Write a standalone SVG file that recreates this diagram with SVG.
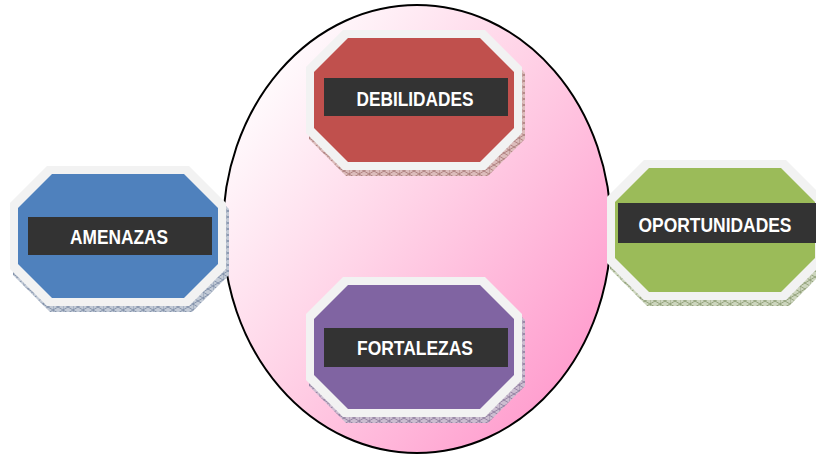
<svg xmlns="http://www.w3.org/2000/svg" xmlns:xlink="http://www.w3.org/1999/xlink" width="816" height="455" viewBox="0 0 816 455">
  <defs>
    <style>
      .frame { fill: #f2f2f2; }
      .bar { fill: #333333; }
      .label { font-family: "Liberation Sans", Arial, sans-serif; font-weight: bold; font-size: 20.5px; fill: #ffffff; text-anchor: middle; }
      .red { fill: #c0504d; }
      .blue { fill: #4f81bd; }
      .green { fill: #9bbb59; }
      .purple { fill: #8064a2; }
    </style>
    <linearGradient id="core" x1="0.1" y1="0.1" x2="0.95" y2="0.85">
      <stop offset="0" stop-color="#ffffff"/>
      <stop offset="0.45" stop-color="#ffd3e7"/>
      <stop offset="1" stop-color="#ff99cc"/>
    </linearGradient>
    <!-- hatched side faces of the extruded octagons -->
    <pattern id="hatch-red" width="10" height="6" patternUnits="userSpaceOnUse">
      <rect width="10" height="6" fill="#dcbcbb"/>
      <path d="M0 0L10 6M10 0L0 6M0 0V6" stroke="#96605e" stroke-width="0.6"/>
    </pattern>
    <pattern id="hatch-blue" width="10" height="6" patternUnits="userSpaceOnUse">
      <rect width="10" height="6" fill="#c2cad6"/>
      <path d="M0 0L10 6M10 0L0 6M0 0V6" stroke="#627694" stroke-width="0.6"/>
    </pattern>
    <pattern id="hatch-green" width="10" height="6" patternUnits="userSpaceOnUse">
      <rect width="10" height="6" fill="#ccd5bd"/>
      <path d="M0 0L10 6M10 0L0 6M0 0V6" stroke="#748656" stroke-width="0.6"/>
    </pattern>
    <pattern id="hatch-purple" width="10" height="6" patternUnits="userSpaceOnUse">
      <rect width="10" height="6" fill="#cbbdd0"/>
      <path d="M0 0L10 6M10 0L0 6M0 0V6" stroke="#735f88" stroke-width="0.6"/>
    </pattern>
    <path id="oct-outer" d="M37 0H179L216 37V103L179 140H37L0 103V37Z"/>
    <path id="oct-inner" d="M42 8H174L208 42V98L174 132H42L8 98V42Z"/>
  </defs>

  <rect width="816" height="455" fill="#ffffff"/>

  <!-- central ellipse -->
  <ellipse id="core-ellipse" cx="417" cy="229" rx="194" ry="224" fill="url(#core)" stroke="#000000" stroke-width="2"/>

  <g id="connectors"></g>

  <g id="debilidades" transform="translate(306,30)">
    <use xlink:href="#oct-outer" transform="translate(3,6)" fill="url(#hatch-red)"/>
    <use xlink:href="#oct-outer" class="frame"/>
    <use xlink:href="#oct-inner" class="red"/>
    <rect class="bar" x="18" y="48" width="184" height="38"/>
    <text class="label" x="109" y="76" textLength="117" lengthAdjust="spacingAndGlyphs">DEBILIDADES</text>
  </g>

  <g id="amenazas" transform="translate(10,166)">
    <use xlink:href="#oct-outer" transform="translate(3,6)" fill="url(#hatch-blue)"/>
    <use xlink:href="#oct-outer" class="frame"/>
    <use xlink:href="#oct-inner" class="blue"/>
    <rect class="bar" x="18" y="51" width="184" height="38"/>
    <text class="label" x="109" y="78" textLength="98" lengthAdjust="spacingAndGlyphs">AMENAZAS</text>
  </g>

  <g id="oportunidades" transform="translate(607,160)">
    <use xlink:href="#oct-outer" transform="translate(3,6)" fill="url(#hatch-green)"/>
    <use xlink:href="#oct-outer" class="frame"/>
    <use xlink:href="#oct-inner" class="green"/>
    <rect class="bar" x="11" y="43" width="198" height="40"/>
    <text class="label" x="108" y="72" textLength="153" lengthAdjust="spacingAndGlyphs">OPORTUNIDADES</text>
  </g>

  <g id="fortalezas" transform="translate(306,277)">
    <use xlink:href="#oct-outer" transform="translate(3,6)" fill="url(#hatch-purple)"/>
    <use xlink:href="#oct-outer" class="frame"/>
    <use xlink:href="#oct-inner" class="purple"/>
    <rect class="bar" x="18" y="51" width="184" height="39"/>
    <text class="label" x="109" y="78" textLength="116" lengthAdjust="spacingAndGlyphs">FORTALEZAS</text>
  </g>
</svg>
